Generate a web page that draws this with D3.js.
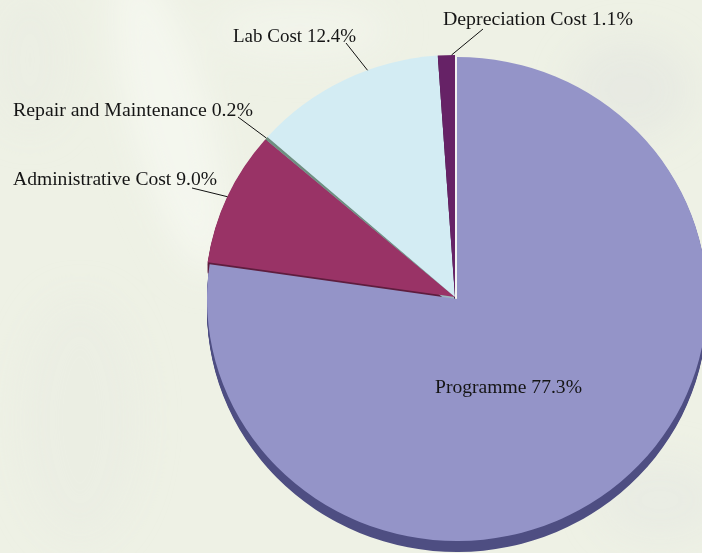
<!DOCTYPE html>
<html>
<head>
<meta charset="utf-8">
<script src="https://cdn.jsdelivr.net/npm/d3@7"></script>
<style>
  html, body { margin: 0; padding: 0; background: #eef1e5; }
  svg { display: block; }
</style>
</head>
<body>
<svg id="chart" width="702" height="553"></svg>
<script>
// Cost shares, clockwise from 12 o'clock
const categories = ["Programme", "Administrative Cost", "Repair and Maintenance", "Lab Cost", "Depreciation Cost"];
const shares = [77.3, 9.0, 0.2, 12.4, 1.1];
const labelTexts = categories.map((c, i) => `${c} ${shares[i].toFixed(1)}%`);

// Slice styling
const topColors  = ["#9494c8", "#993366", "#6f8f80", "#d3ecf3", "#662266"];
const sideColors = ["#4e4e82", "#5e1d3e", "#46604f", "#9bb6bf", "#3e143e"];
const explode    = [[2, 2], [0, 0], [0, 0], [0, 0], [0, 0]];

// Label layout: left x, baseline y, rendered width, leader elbow, where on the slice arc the leader lands
const labelX     = [435, 13, 13, 233, 443];
const labelY     = [393, 185, 116, 42, 25];
const labelW     = [147, 204, 240, 123, 190];
const leaderEnd  = [null, [192, 188], [238, 117], [346, 43], [483, 29]];
const leaderFrac = [0.5, 0.5, 0.5, 0.63, 0.8];

const W = 702, H = 553;
const cx = 455, cy = 297, rx = 250, ry = 242, depth = 11;

const svg = d3.select("#chart");

// ---- soft photographic backdrop ----
const defs = svg.append("defs");
defs.append("filter").attr("id", "soft")
  .attr("x", "-50%").attr("y", "-50%").attr("width", "200%").attr("height", "200%")
  .append("feGaussianBlur").attr("stdDeviation", 18);

svg.append("rect").attr("width", W).attr("height", H).attr("fill", "#eef1e5");
const bg = svg.append("g").attr("filter", "url(#soft)");
[
  { x: 170, y: 120, rx: 40, ry: 160, c: "#f5f7ef", o: 0.9, r: -15 },
  { x: 80,  y: 420, rx: 60, ry: 120, c: "#e9ece2", o: 0.7, r: 0 },
  { x: 630, y: 90,  rx: 60, ry: 50,  c: "#e6e9e1", o: 0.8, r: 0 },
  { x: 300, y: 30,  rx: 90, ry: 30,  c: "#f3f5ec", o: 0.8, r: 0 },
  { x: 660, y: 500, rx: 60, ry: 40,  c: "#e7eae2", o: 0.7, r: 0 },
  { x: 30,  y: 60,  rx: 40, ry: 70,  c: "#e9ece3", o: 0.7, r: 0 }
].forEach(b => {
  bg.append("ellipse")
    .attr("cx", b.x).attr("cy", b.y).attr("rx", b.rx).attr("ry", b.ry)
    .attr("transform", `rotate(${b.r},${b.x},${b.y})`)
    .attr("fill", b.c).attr("opacity", b.o);
});

// ---- pie geometry ----
const pie = d3.pie().sort(null).value(d => d).startAngle(0).endAngle(2 * Math.PI);
const arcs = pie(shares);
const arc = d3.arc().innerRadius(0).outerRadius(ry);
const sx = rx / ry;
const onRim = a => [cx + rx * Math.sin(a), cy - ry * Math.cos(a)];

// Side walls: stacked copies of each slice pushed downward
const sideLayer = svg.append("g");
d3.range(1, depth + 1).forEach(k => {
  sideLayer.append("g").selectAll("path")
    .data(arcs)
    .join("path")
    .attr("d", arc)
    .attr("transform", (d, i) => `translate(${cx + explode[i][0]},${cy + explode[i][1] + k}) scale(${sx},1)`)
    .attr("fill", (d, i) => sideColors[i]);
});

// Top faces
svg.append("g").selectAll("path")
  .data(arcs)
  .join("path")
  .attr("d", arc)
  .attr("transform", (d, i) => `translate(${cx + explode[i][0]},${cy + explode[i][1]}) scale(${sx},1)`)
  .attr("fill", (d, i) => topColors[i]);

// Light cut face where the Programme slice pulls away from its neighbour
const p0 = arcs[0];
const rimStart = onRim(p0.startAngle);
svg.append("line")
  .attr("x1", cx + 1).attr("y1", cy + 1)
  .attr("x2", rimStart[0] + 1).attr("y2", rimStart[1] + 2)
  .attr("stroke", "#f4f4f8").attr("stroke-width", 1.3);

// ---- leaders ----
const leaders = svg.append("g").attr("stroke", "#111").attr("stroke-width", 1).attr("fill", "none");
arcs.forEach((d, i) => {
  if (!leaderEnd[i]) return;
  const a = d.startAngle + leaderFrac[i] * (d.endAngle - d.startAngle);
  const p = onRim(a);
  leaders.append("line")
    .attr("x1", leaderEnd[i][0]).attr("y1", leaderEnd[i][1])
    .attr("x2", p[0]).attr("y2", p[1]);
});

// ---- labels ----
svg.append("g").selectAll("text")
  .data(labelTexts)
  .join("text")
  .attr("x", (d, i) => labelX[i])
  .attr("y", (d, i) => labelY[i])
  .attr("textLength", (d, i) => labelW[i])
  .attr("lengthAdjust", "spacingAndGlyphs")
  .attr("font-family", "'Liberation Serif', 'Times New Roman', serif")
  .attr("font-size", 18)
  .attr("fill", "#151515")
  .text(d => d);
</script>
</body>
</html>
